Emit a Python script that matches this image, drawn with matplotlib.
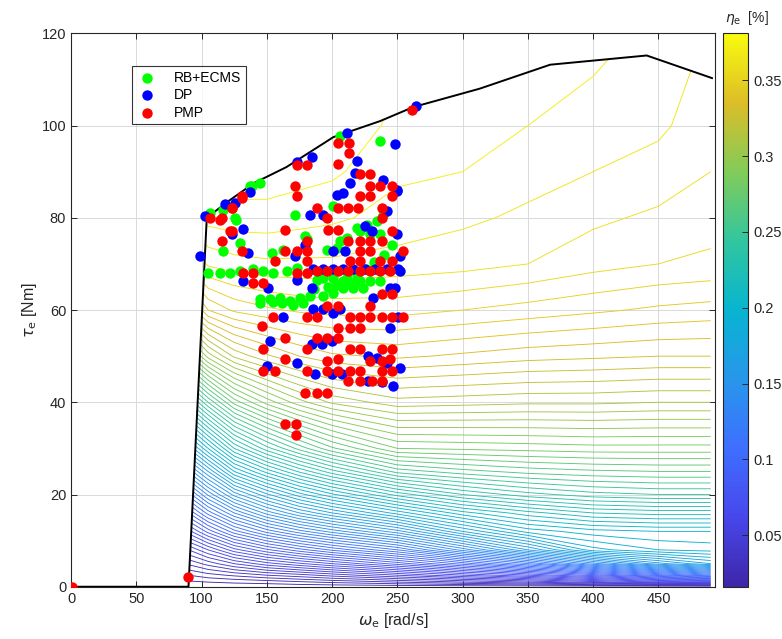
import matplotlib

matplotlib.use("Agg")

import matplotlib.pyplot as plt
import numpy as np
from matplotlib.colors import LinearSegmentedColormap, Normalize
from matplotlib.cm import ScalarMappable
from matplotlib.patches import Polygon


# engine efficiency map (rows: torque, columns: speed)
MAP_SPEED = [90, 105, 125, 150, 175, 200, 250, 300, 350, 400, 450, 490]
MAP_TORQUE = [0, 1, 2.5, 5, 8, 12, 16, 20, 25, 30, 40, 50, 60, 70, 80, 90, 100, 116]
MAP_ETA = [
    [0.016, 0.016, 0.016, 0.016, 0.016, 0.016, 0.016, 0.016, 0.016, 0.016, 0.016, 0.016],
    [0.019, 0.020, 0.021, 0.022, 0.024, 0.026, 0.030, 0.035, 0.040, 0.047, 0.055, 0.060],
    [0.025, 0.028, 0.031, 0.035, 0.038, 0.042, 0.050, 0.060, 0.070, 0.082, 0.097, 0.110],
    [0.036, 0.042, 0.050, 0.058, 0.064, 0.070, 0.082, 0.097, 0.115, 0.138, 0.158, 0.170],
    [0.050, 0.060, 0.073, 0.084, 0.093, 0.101, 0.115, 0.137, 0.160, 0.183, 0.190, 0.192],
    [0.073, 0.087, 0.103, 0.117, 0.128, 0.137, 0.153, 0.175, 0.192, 0.198, 0.200, 0.200],
    [0.095, 0.112, 0.130, 0.147, 0.160, 0.170, 0.187, 0.203, 0.213, 0.220, 0.222, 0.222],
    [0.117, 0.136, 0.157, 0.174, 0.188, 0.199, 0.217, 0.230, 0.238, 0.243, 0.245, 0.245],
    [0.146, 0.165, 0.190, 0.207, 0.221, 0.233, 0.252, 0.258, 0.262, 0.264, 0.265, 0.265],
    [0.175, 0.195, 0.220, 0.238, 0.252, 0.264, 0.280, 0.281, 0.282, 0.283, 0.283, 0.283],
    [0.230, 0.250, 0.272, 0.287, 0.298, 0.306, 0.313, 0.312, 0.311, 0.311, 0.310, 0.310],
    [0.283, 0.302, 0.316, 0.324, 0.330, 0.334, 0.336, 0.334, 0.332, 0.331, 0.330, 0.330],
    [0.325, 0.340, 0.346, 0.349, 0.351, 0.352, 0.352, 0.350, 0.348, 0.346, 0.344, 0.343],
    [0.352, 0.361, 0.363, 0.364, 0.364, 0.364, 0.363, 0.362, 0.360, 0.357, 0.355, 0.354],
    [0.366, 0.372, 0.373, 0.373, 0.372, 0.371, 0.368, 0.366, 0.364, 0.361, 0.359, 0.357],
    [0.372, 0.377, 0.378, 0.378, 0.377, 0.376, 0.371, 0.370, 0.367, 0.365, 0.363, 0.360],
    [0.374, 0.379, 0.380, 0.380, 0.380, 0.378, 0.374, 0.373, 0.370, 0.368, 0.366, 0.362],
    [0.375, 0.380, 0.381, 0.381, 0.381, 0.380, 0.376, 0.375, 0.373, 0.371, 0.368, 0.364],
]
ETA_MIN = 0.016
ETA_MAX = 0.381

# maximum torque curve
MAX_SPEED = [0, 90, 104, 120, 140, 165, 201, 237, 262, 313, 367, 441, 491]
MAX_TORQUE = [0, 0, 80, 83.5, 87.5, 91, 97.5, 101, 104, 108.0, 113.2, 115.2, 110.3]

# operating points
ECMS_SPEED = [
    106.5, 116.7, 125.6, 171.6, 201.0, 137.1, 144.8, 179.3, 180.6, 162.7,
    195.9, 116.7, 105.2, 114.2, 121.8, 129.5, 139.7, 147.4, 155.0, 165.2,
    172.9, 188.2, 193.3, 201.0, 208.7, 213.8, 221.4, 229.1, 236.8, 144.8,
    152.5, 160.1, 167.8, 175.5, 183.1, 193.3, 201.0, 208.7, 216.3, 224.0,
    211.2, 218.9, 221.4, 229.1, 236.8, 218.9, 211.2, 206.1, 203.5, 226.5,
    234.2, 239.3, 129.5, 153.7, 206.0, 236.8, 138.5, 126.5, 186.0, 197.0,
    204.0, 218.0, 226.0, 232.0, 240.0, 246.0, 162.0, 170.0, 178.0, 145.0,
    155.0,
]
ECMS_TORQUE = [
    81.1, 81.8, 80.0, 80.7, 82.5, 86.8, 87.5, 76.0, 75.3, 73.1,
    73.1, 72.8, 68.1, 68.1, 68.1, 68.4, 68.8, 68.4, 68.1, 68.4,
    69.2, 66.6, 67.0, 67.0, 66.3, 65.6, 66.3, 66.3, 66.3, 62.3,
    62.3, 62.7, 62.0, 62.7, 63.0, 63.0, 63.8, 64.8, 64.8, 64.8,
    67.0, 67.7, 77.1, 76.4, 76.4, 77.8, 75.6, 74.9, 73.5, 78.5,
    79.3, 80.7, 74.6, 72.4, 97.7, 96.6, 86.9, 79.6, 64.5, 65.0,
    65.5, 66.0, 69.0, 70.5, 72.0, 74.0, 61.5, 61.0, 61.5, 61.5,
    61.8,
]

DP_SPEED = [
    137.1, 125.6, 118.0, 102.7, 132.0, 123.1, 98.5, 135.9, 132.0, 151.2,
    172.9, 184.4, 171.6, 179.3, 183.1, 193.3, 201.0, 209.9, 203.5, 208.7,
    213.8, 225.3, 230.4, 241.9, 249.5, 249.5, 252.1, 252.1, 244.4, 248.2,
    231.6, 185.7, 193.3, 201.0, 206.1, 244.4, 250.8, 162.7, 152.5, 172.9,
    184.4, 192.1, 199.7, 149.9, 187.0, 199.7, 207.4, 227.8, 234.2, 241.9,
    252.1, 227.8, 238.0, 247.0, 185.7, 193.3, 201.0, 208.7, 216.3, 225.3,
    232.9, 241.9, 250.8, 211.2, 248.3, 184.4, 172.9, 218.9, 217.6, 239.0,
    249.5, 264.1,
]
DP_TORQUE = [
    85.7, 83.2, 82.9, 80.3, 77.5, 76.4, 71.7, 72.4, 66.3, 64.8,
    66.6, 64.8, 71.7, 74.2, 80.7, 80.7, 72.8, 72.8, 85.0, 85.4,
    87.5, 78.2, 77.1, 81.4, 86.1, 76.4, 71.7, 68.4, 64.8, 64.8,
    62.7, 60.2, 60.2, 59.4, 60.2, 56.2, 58.4, 58.4, 53.3, 48.6,
    52.6, 52.6, 53.3, 47.9, 46.1, 46.1, 46.1, 50.1, 49.7, 48.6,
    47.5, 44.7, 44.3, 43.6, 68.8, 68.8, 68.8, 68.8, 68.8, 68.8,
    68.8, 68.8, 68.8, 98.4, 95.9, 93.1, 92.0, 92.4, 89.7, 88.3,
    85.9, 104.3,
]

PMP_SPEED = [
    171.6, 172.9, 188.2, 195.9, 204.8, 212.5, 220.2, 221.4, 229.1, 229.1,
    236.8, 245.7, 238.0, 245.7, 238.0, 197.2, 204.8, 212.5, 221.4, 229.1,
    238.0, 221.4, 229.1, 245.7, 254.6, 245.7, 236.8, 221.4, 213.8, 204.8,
    212.5, 221.4, 229.1, 236.8, 244.4, 195.9, 188.2, 180.6, 172.9, 180.6,
    180.6, 172.9, 164.0, 180.6, 164.0, 156.3, 130.8, 139.7, 132.0, 139.7,
    147.4, 123.1, 115.4, 123.1, 115.4, 106.5, 130.8, 245.7, 238.0, 229.1,
    195.9, 204.8, 155.0, 180.6, 188.2, 213.8, 221.4, 229.1, 238.0, 245.7,
    254.6, 146.1, 204.8, 213.8, 221.4, 164.0, 188.2, 195.9, 204.8, 147.4,
    180.6, 213.8, 221.4, 238.0, 245.7, 164.0, 195.9, 204.8, 229.1, 238.0,
    244.4, 147.4, 156.3, 180.6, 195.9, 204.8, 213.8, 221.4, 238.0, 245.7,
    212.5, 221.4, 230.4, 238.0, 179.3, 188.2, 195.9, 164.0, 172.6, 172.0,
    204.9, 212.6, 212.6, 172.9, 180.6, 130.8, 123.2, 114.2, 121.9, 204.9,
    221.5, 229.2, 0.5, 89.9, 261.5,
]
PMP_TORQUE = [
    86.8, 84.7, 82.1, 80.0, 82.1, 82.1, 82.1, 84.7, 84.7, 86.8,
    86.8, 86.8, 82.1, 84.7, 80.0, 77.4, 77.4, 74.9, 74.9, 74.9,
    74.9, 72.8, 72.8, 77.1, 72.8, 70.6, 70.6, 70.6, 70.6, 68.4,
    68.4, 68.4, 68.4, 68.4, 68.4, 68.4, 68.4, 68.1, 68.1, 70.6,
    72.8, 72.8, 72.8, 74.9, 77.4, 70.6, 72.8, 68.1, 68.1, 65.9,
    65.9, 77.1, 74.9, 82.1, 80.0, 80.0, 84.7, 63.4, 63.4, 60.9,
    60.9, 60.9, 58.4, 58.4, 58.4, 58.4, 58.4, 58.4, 58.4, 58.4,
    58.4, 56.6, 56.2, 56.2, 56.2, 54.0, 54.0, 54.0, 54.0, 51.5,
    51.5, 51.5, 51.5, 51.5, 51.5, 49.3, 49.0, 49.3, 49.0, 49.0,
    49.3, 46.8, 46.8, 46.8, 46.8, 46.8, 46.8, 46.8, 46.8, 46.8,
    44.7, 44.7, 44.7, 44.7, 42.1, 42.1, 42.1, 35.3, 35.3, 32.8,
    96.2, 96.2, 94.0, 91.5, 91.5, 84.3, 82.1, 79.6, 77.1, 91.6,
    89.4, 89.4, 0.0, 2.2, 103.3,
]

PARULA = LinearSegmentedColormap.from_list(
    "parula",
    [
        (0.2422, 0.1504, 0.6603),
        (0.2803, 0.2782, 0.9221),
        (0.2440, 0.4358, 0.9988),
        (0.1540, 0.5902, 0.9218),
        (0.0297, 0.7082, 0.8163),
        (0.1938, 0.7758, 0.6251),
        (0.5044, 0.7993, 0.3480),
        (0.8634, 0.7406, 0.1596),
        (0.9763, 0.9831, 0.0538),
    ],
)

TEXT_COLOR = (0.15, 0.15, 0.15)


def main() -> None:
    plt.rcParams["font.family"] = ["Liberation Sans", "DejaVu Sans"]
    plt.rcParams["mathtext.fontset"] = "dejavusans"

    figure = plt.figure(figsize=(7.82, 6.39), dpi=100)
    axis = figure.add_axes([0.0908, 0.0818, 0.823, 0.866])
    color_axis = figure.add_axes([0.9246, 0.0818, 0.032, 0.866])

    norm = Normalize(vmin=ETA_MIN, vmax=ETA_MAX)

    contours = axis.contour(
        MAP_SPEED,
        MAP_TORQUE,
        np.array(MAP_ETA),
        levels=np.arange(0.02, 0.3801, 0.005),
        cmap=PARULA,
        norm=norm,
        linewidths=0.65,
        zorder=2,
    )

    boundary = Polygon(
        list(zip(MAX_SPEED, MAX_TORQUE)) + [(MAX_SPEED[-1], 0)],
        closed=True,
        transform=axis.transData,
        facecolor="none",
        edgecolor="none",
    )
    axis.add_patch(boundary)
    contours.set_clip_path(boundary)

    axis.plot(MAX_SPEED, MAX_TORQUE, color="black", linewidth=1.4, zorder=3)

    axis.scatter(ECMS_SPEED, ECMS_TORQUE, s=56, color=(0.0, 1.0, 0.0),
                 linewidths=0, label="RB+ECMS", zorder=4)
    axis.scatter(DP_SPEED, DP_TORQUE, s=56, color=(0.0, 0.0, 1.0),
                 linewidths=0, label="DP", zorder=5)
    axis.scatter(PMP_SPEED, PMP_TORQUE, s=56, color=(1.0, 0.0, 0.0),
                 linewidths=0, label="PMP", zorder=6)

    axis.set_xlim(0, 493)
    axis.set_ylim(0, 120)
    axis.set_xticks(np.arange(0, 451, 50))
    axis.set_yticks(np.arange(0, 121, 20))
    axis.grid(True, color=(0.85, 0.85, 0.85), linewidth=0.7, zorder=0)
    axis.set_axisbelow(True)
    axis.tick_params(direction="in", top=True, right=True, length=4,
                     labelsize=10.5, colors=TEXT_COLOR, width=0.7)
    for spine in axis.spines.values():
        spine.set_color(TEXT_COLOR)
        spine.set_linewidth(0.8)

    axis.set_xlabel(r"$\omega_\mathrm{e}$ [rad/s]", fontsize=11.5,
                    color=TEXT_COLOR, labelpad=4)
    axis.set_ylabel(r"$\tau_\mathrm{e}$ [Nm]", fontsize=11.5,
                    color=TEXT_COLOR, labelpad=2)

    legend = axis.legend(
        loc="upper left",
        bbox_to_anchor=(0.0837, 0.954),
        fontsize=10,
        frameon=True,
        fancybox=False,
        edgecolor="black",
        borderpad=0.35,
        handletextpad=1.2,
        labelspacing=0.25,
        handlelength=1.5,
    )
    legend.get_frame().set_linewidth(0.8)

    colorbar = figure.colorbar(
        ScalarMappable(norm=norm, cmap=PARULA),
        cax=color_axis,
        ticks=[0.05, 0.1, 0.15, 0.2, 0.25, 0.3, 0.35],
    )
    colorbar.ax.set_yticklabels(["0.05", "0.1", "0.15", "0.2", "0.25", "0.3", "0.35"])
    colorbar.ax.tick_params(direction="in", length=4, labelsize=10.5,
                            colors=TEXT_COLOR, width=0.7)
    colorbar.outline.set_edgecolor(TEXT_COLOR)
    colorbar.outline.set_linewidth(0.8)

    figure.text(0.955, 0.972, r"$\eta_\mathrm{e}$  [%]", ha="center",
                va="center", fontsize=10, color=TEXT_COLOR)

    figure.savefig("out.png", dpi=100)


if __name__ == "__main__":
    main()
